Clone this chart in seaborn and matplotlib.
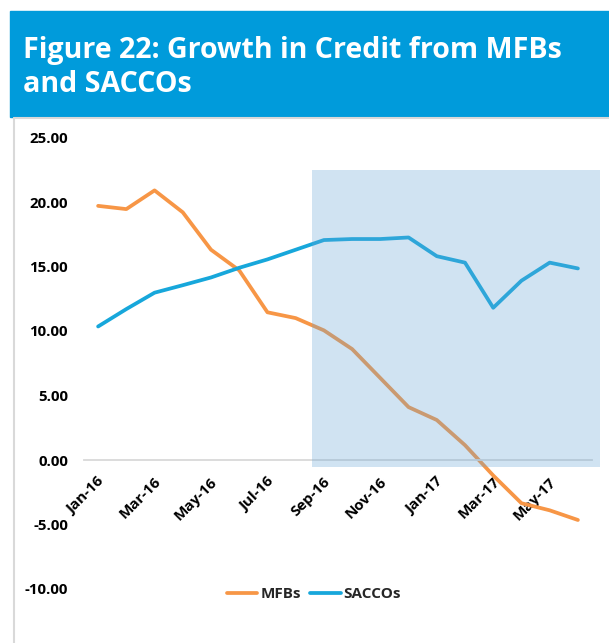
#!/usr/bin/env python3
"""
Figure 22: Growth in Credit from MFBs and SACCOs
"""

import numpy as np
import pandas as pd
import matplotlib
matplotlib.use('Agg')
import matplotlib.pyplot as plt
import matplotlib.transforms as mtransforms
import seaborn as sns
from matplotlib.patches import Rectangle
from matplotlib.lines import Line2D

# Data
months = ['Jan-16', 'Feb-16', 'Mar-16', 'Apr-16', 'May-16', 'Jun-16',
          'Jul-16', 'Aug-16', 'Sep-16', 'Oct-16', 'Nov-16', 'Dec-16',
          'Jan-17', 'Feb-17', 'Mar-17', 'Apr-17', 'May-17', 'Jun-17']
mfbs = [19.70, 19.45, 20.90, 19.20, 16.30, 14.70, 11.45, 11.00, 10.05,
        8.60, 6.35, 4.10, 3.10, 1.15, -1.20, -3.35, -3.90, -4.65]
saccos = [10.35, 11.70, 12.97, 13.55, 14.15, 14.90, 15.55, 16.30, 17.05,
          17.13, 17.13, 17.25, 15.80, 15.30, 11.80, 13.90, 15.30, 14.85]
yticks = [-10, -5, 0, 5, 10, 15, 20, 25]
shade_start, shade_end = 7.58, 17.79
shade_low, shade_high = -0.54, 22.48

ORANGE = '#F79646'
BLUE = '#17A7DB'
BANNER = '#009BDB'

sns.set_style('white')
plt.rcParams['font.family'] = ['Open Sans', 'DejaVu Sans']

W, H = 609, 643
fig = plt.figure(figsize=(W / 100, H / 100), dpi=100)

# Title banner
fig.patches.append(Rectangle((10 / W, 1 - 117 / H), 599 / W, 106 / H,
                             transform=fig.transFigure, color=BANNER, zorder=0))
fig.text(23 / W, 1 - 57.7 / H, 'Figure 22: Growth in Credit from MFBs',
         color='white', fontsize=20.6, fontweight='bold', va='baseline')
fig.text(23 / W, 1 - 91.7 / H, 'and SACCOs',
         color='white', fontsize=20.6, fontweight='bold', va='baseline')

# Light frame round the chart
fig.lines.append(Line2D([14 / W, 14 / W], [0, 1 - 118 / H], transform=fig.transFigure,
                        color='#D9D9D9', linewidth=1.5))
fig.lines.append(Line2D([14 / W, 1], [1 - 118 / H, 1 - 118 / H], transform=fig.transFigure,
                        color='#D9D9D9', linewidth=1.5))

ax = fig.add_axes([84 / W, 1 - 589 / H, 508 / W, 451.5 / H])
ax.patch.set_alpha(0)

df = pd.DataFrame({'idx': np.arange(len(months)), 'MFBs': mfbs, 'SACCOs': saccos})
sns.lineplot(data=df, x='idx', y='MFBs', ax=ax, color=ORANGE, linewidth=2.7,
             label='MFBs', legend=False)
sns.lineplot(data=df, x='idx', y='SACCOs', ax=ax, color=BLUE, linewidth=2.7,
             label='SACCOs', legend=False)

# Shaded period drawn on top
ax.add_patch(Rectangle((shade_start, shade_low), shade_end - shade_start,
                       shade_high - shade_low, facecolor=(101 / 255, 165 / 255, 215 / 255),
                       alpha=0.3, edgecolor='none', zorder=5, clip_on=False))

ax.set_xlim(-0.5, len(months) - 0.5)
ax.set_ylim(-10, 25)
ax.set_xlabel('')
ax.set_ylabel('')

for side in ['top', 'right', 'left']:
    ax.spines[side].set_visible(False)
ax.spines['bottom'].set_position(('data', 0))
ax.spines['bottom'].set_color('#D9D9D9')
ax.spines['bottom'].set_linewidth(1.3)

ax.set_yticks(yticks)
ax.set_yticklabels([f'{v:.2f}' for v in yticks], fontsize=10.8, fontweight='bold')
ax.tick_params(axis='y', length=0, pad=11.5, colors='black')

ax.set_xticks(np.arange(0, len(months), 2))
ax.set_xticklabels(months[::2], rotation=45, ha='right', rotation_mode='anchor',
                   fontsize=10.8, fontweight='bold')
ax.set_xticks(np.arange(-0.5, len(months), 2), minor=True)
ax.tick_params(axis='x', which='major', length=0, pad=10.5, labelcolor='black')
ax.tick_params(axis='x', which='minor', length=4, width=1.2, color='#D9D9D9', direction='out')
shift = mtransforms.ScaledTranslation(-1 / 100, 0, fig.dpi_scale_trans)
for lbl in ax.get_xticklabels():
    lbl.set_transform(lbl.get_transform() + shift)

handles = [Line2D([], [], color=ORANGE, linewidth=2.7),
           Line2D([], [], color=BLUE, linewidth=2.7)]
fig.legend(handles, ['MFBs', 'SACCOs'], loc='center',
           bbox_to_anchor=(314 / W, 1 - 594 / H), ncol=2, frameon=False,
           prop={'weight': 'bold', 'size': 11},
           handlelength=2.0, handletextpad=0.2, columnspacing=0.6)

fig.savefig('out.png', dpi=100)
